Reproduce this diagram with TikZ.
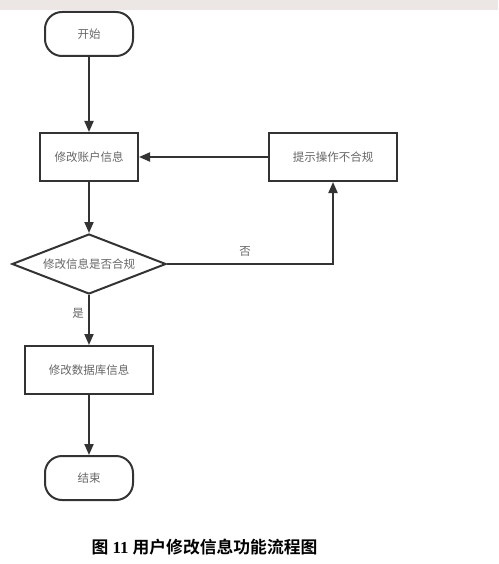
\documentclass[tikz,border=0pt]{standalone}
\usepackage{fontspec}
\setmainfont{Liberation Serif}
\newfontfamily\cjk{Noto Sans CJK SC}
\newfontfamily\cjkb{Noto Sans CJK SC Bold}
\usetikzlibrary{arrows.meta,shapes.geometric}
\definecolor{linec}{HTML}{333333}
\definecolor{textc}{HTML}{666666}
\definecolor{bandc}{HTML}{ECE6E4}
\tikzset{
  base/.style={draw=linec, line width=2pt, text=textc, font=\cjk\fontsize{11.5}{13}\selectfont, inner sep=0pt},
  term/.style={base, rounded corners=17pt, minimum width=88pt, minimum height=44pt},
  proc/.style={base, minimum height=48pt},
  deci/.style={base, diamond, aspect=2.57, minimum width=154pt, minimum height=60pt},
  conn/.style={draw=linec, line width=2pt, -{Triangle[length=11pt,width=9pt]}},
  lbl/.style={text=textc, font=\cjk\fontsize{11.5}{13}\selectfont, inner sep=0pt}
}
\begin{document}
\begin{tikzpicture}[x=1pt,y=-1pt]
\useasboundingbox (0,0) rectangle (498,564);
\fill[bandc] (0,0) rectangle (498,10);
\node[term] (start) at (89,34) {开始};
\node[proc, minimum width=98pt] (edit) at (89,157) {修改账户信息};
\node[deci] (chk) at (89,264) {修改信息是否合规};
\node[proc, minimum width=128pt] (warn) at (333,157) {提示操作不合规};
\node[proc, minimum width=128pt] (db) at (89,370) {修改数据库信息};
\node[term] (end) at (89,478) {结束};
\coordinate (corner) at (333,264);
\draw[conn] (start) -- (edit);
\draw[conn] (edit) -- (chk);
\draw[conn] (chk.east) -- (corner) -- (warn.south);
\draw[conn] (warn) -- (edit);
\draw[conn] (chk) -- (db);
\draw[conn] (db) -- (end);
\node[lbl] (no) at (245,251) {否};
\node[lbl] (yes) at (78,313) {是};
\node[inner sep=0pt, font=\fontsize{16.8}{20}\selectfont] (cap) at (204.5,547.5) {{\cjkb 图} \textbf{11} {\cjkb 用户修改信息功能流程图}};
\end{tikzpicture}
\end{document}
